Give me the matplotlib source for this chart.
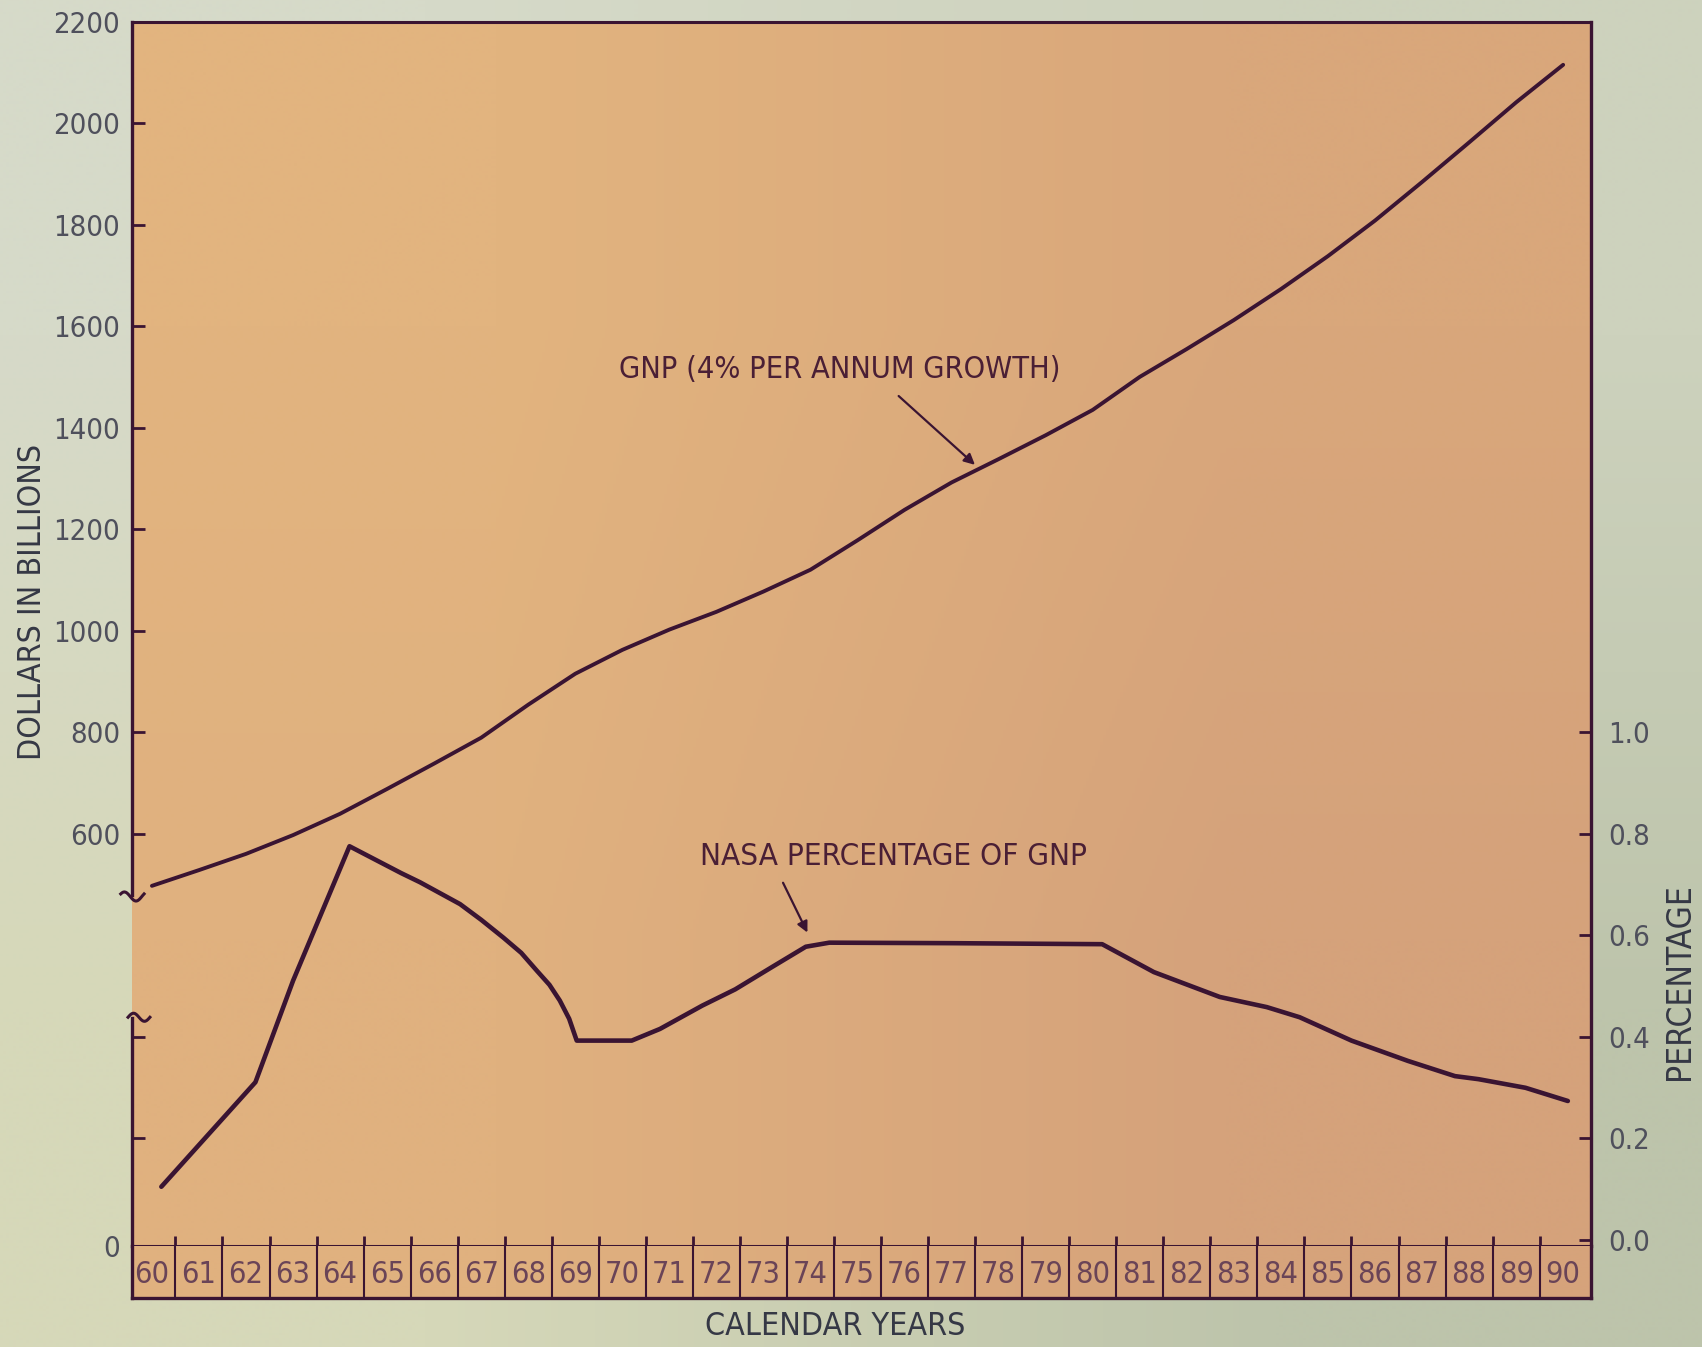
import numpy as np
import matplotlib
matplotlib.use('Agg')
import matplotlib.pyplot as plt
import matplotlib.colors as mcolors

plt.rcParams['font.family'] = ['Liberation Sans Narrow', 'DejaVu Sans']
plt.rcParams['font.stretch'] = 'condensed'

# data
gnp_years = list(range(60, 91))
gnp = [497, 528, 560, 597, 639, 688, 738, 789, 854, 915, 962, 1002, 1037, 1077,
       1120, 1178, 1238, 1292, 1338, 1385, 1435, 1500, 1555, 1612, 1673, 1738,
       1808, 1884, 1962, 2041, 2115]

nasa_years = [60.2, 62.2, 63.0, 64.2, 65.3, 65.7, 66.55, 67.0, 67.47, 67.85, 68.18,
              68.45, 68.67, 68.87, 69.03, 70.2, 70.8, 71.7, 72.4, 73.2, 73.9, 74.4,
              77.0, 80.2, 81.3, 82.7, 83.7, 84.4, 85.5, 86.7, 87.7, 88.2, 89.2, 90.1]
nasa_pct = [0.104, 0.31, 0.51, 0.775, 0.722, 0.704, 0.661, 0.63, 0.595, 0.565, 0.53,
            0.502, 0.471, 0.435, 0.392, 0.392, 0.415, 0.461, 0.493, 0.538, 0.577, 0.585,
            0.584, 0.582, 0.527, 0.478, 0.458, 0.438, 0.392, 0.352, 0.322, 0.316, 0.299,
            0.273]

year_labels = [str(y) for y in range(60, 91)]
dollar_ticks = [-213, 0, 200, 600, 800, 1000, 1200, 1400, 1600, 1800, 2000, 2200]
dollar_labels = ['0', '', '', '600', '800', '1000', '1200', '1400', '1600', '1800', '2000', '2200']
pct_ticks = [0.0, 0.2, 0.4, 0.6, 0.8, 1.0]
pct_labels = ['0.0', '0.2', '0.4', '0.6', '0.8', '1.0']

ink = '#3a1432'
num_col = '#4f505c'
yr_col = '#6a4457'
lab_col = '#353845'
note_col = '#4a1f35'

def grad(tl, tr, bl, br):
    c = [[mcolors.to_rgb(tl), mcolors.to_rgb(tr)], [mcolors.to_rgb(bl), mcolors.to_rgb(br)]]
    return np.array(c)

fig = plt.figure(figsize=(17.02, 13.47), dpi=100)
fig.patch.set_facecolor('#cbd0bb')
bg = fig.add_axes([0, 0, 1, 1], zorder=-10)
bg.imshow(grad('#d6dac9', '#cdd2bd', '#d6d8b9', '#bdc4ab'), extent=[0, 1, 0, 1],
          aspect='auto', interpolation='bilinear')
bg.axis('off')

ax = fig.add_axes([0.0778, 0.0749, 0.8572, 0.909])
ax.set_facecolor('none')
ax.imshow(grad('#e2b47f', '#d9a77b', '#e0b17f', '#d5a27b'), extent=[0, 1, 0, 1],
          transform=ax.transAxes, aspect='auto', interpolation='bilinear', zorder=0)
ax.set_xlim(59.585, 90.6)
ax.set_ylim(-213, 2200)

ax.plot(gnp_years, gnp, color=ink, lw=2.8, solid_capstyle='round', zorder=3)

ax.set_yticks(dollar_ticks)
ax.set_yticklabels(dollar_labels)
ax.tick_params(axis='y', direction='in', length=9, width=2, color=ink,
               labelcolor=num_col, labelsize=21, pad=9)
ax.set_xticks([y + 0.5 for y in range(60, 90)])
ax.set_xticklabels([])
ax.tick_params(axis='x', direction='in', length=7, width=2, color=ink)

ax.spines['left'].set_visible(False)
ax.spines['right'].set_visible(False)
for s in ['top', 'bottom']:
    ax.spines[s].set_color(ink)
    ax.spines[s].set_linewidth(2.2)

# broken left axis with small hooks at the break
tr = ax.get_yaxis_transform()
ax.plot([0, 0], [478, 2200], color=ink, lw=2.4, transform=tr, clip_on=False, zorder=4)
ax.plot([0, 0], [-213, 236], color=ink, lw=2.4, transform=tr, clip_on=False, zorder=4)
t = np.linspace(0, 1, 20)
ax.plot(-0.008 + 0.016 * t, 476 + 9 * np.sin(2 * np.pi * t + 0.6), color=ink, lw=2.2,
        transform=tr, clip_on=False, zorder=4)
ax.plot(-0.003 + 0.015 * t, 238 + 8 * np.sin(2 * np.pi * t), color=ink, lw=2.2,
        transform=tr, clip_on=False, zorder=4)

ax2 = ax.twinx()
ax2.set_ylim(-0.013, 2.4)
ax2.plot(nasa_years, nasa_pct, color=ink, lw=3.3, solid_joinstyle='round',
         solid_capstyle='round', zorder=3)
ax2.set_yticks(pct_ticks)
ax2.set_yticklabels(pct_labels)
ax2.tick_params(axis='y', direction='in', length=9, width=2, color=ink,
                labelcolor=num_col, labelsize=21, pad=12)
for s in ['left', 'top', 'bottom']:
    ax2.spines[s].set_visible(False)
ax2.spines['right'].set_color(ink)
ax2.spines['right'].set_linewidth(2.4)

# annotations
ax.text(74.63, 1515, 'GNP (4% PER ANNUM GROWTH)', ha='center', va='center',
        fontsize=22, color=note_col)
ax.annotate('', xy=(77.54, 1323), xytext=(75.83, 1466),
            arrowprops=dict(arrowstyle='-|>', color=ink, lw=1.6, mutation_scale=16))
ax2.text(75.76, 0.755, 'NASA PERCENTAGE OF GNP', ha='center', va='center',
         fontsize=22.5, color=note_col)
ax2.annotate('', xy=(73.96, 0.60), xytext=(73.39, 0.708),
             arrowprops=dict(arrowstyle='-|>', color=ink, lw=1.6, mutation_scale=16))

# year boxes
axy = fig.add_axes([0.0778, 0.0363, 0.8572, 0.0386])
axy.set_facecolor('none')
axy.imshow(grad('#e0b17f', '#d6a37b', '#e0b17f', '#d6a37b'), extent=[0, 1, 0, 1],
           transform=axy.transAxes, aspect='auto', interpolation='bilinear', zorder=0)
axy.set_xlim(59.585, 90.6)
axy.set_ylim(0, 1)
axy.vlines([y + 0.5 for y in range(60, 90)], 0, 1, color=ink, lw=1.5)
for y, lab in zip(range(60, 91), year_labels):
    axy.text(y, 0.45, lab, ha='center', va='center', fontsize=22, color=yr_col)
axy.set_xticks([])
axy.set_yticks([])
axy.spines['top'].set_visible(False)
for s in ['left', 'right', 'bottom']:
    axy.spines[s].set_color(ink)
    axy.spines[s].set_linewidth(2.4)

fig.text(0.019, 0.553, 'DOLLARS IN BILLIONS', rotation=90, ha='center', va='center',
         fontsize=23, color=lab_col)
fig.text(0.987, 0.271, 'PERCENTAGE', rotation=90, ha='center', va='center',
         fontsize=24, color=lab_col)
fig.text(0.491, 0.0153, 'CALENDAR YEARS', ha='center', va='center',
         fontsize=23, color=lab_col)

fig.savefig('out.png', dpi=100, facecolor=fig.get_facecolor())
